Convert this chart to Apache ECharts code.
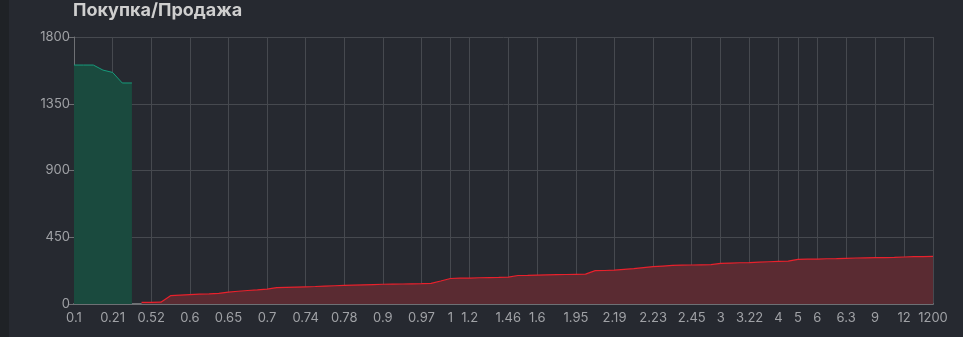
<!DOCTYPE html>
<html>
<head>
<meta charset="utf-8">
<script src="https://cdn.jsdelivr.net/npm/echarts@6/dist/echarts.min.js"></script>
<style>
html,body{margin:0;padding:0;background:#262930;}
body{background:linear-gradient(to right,#1f2226 0,#1f2226 9px,#262930 9px);}
#c{width:963px;height:337px;}
</style>
</head>
<body>
<div id="c"></div>
<script>
const categories = ["0.1","0.12","0.15","0.17","0.21","0.25","0.3","0.5","0.52","0.55","0.57","0.58","0.6","0.61","0.62","0.63","0.65","0.66","0.67","0.68","0.7","0.71","0.72","0.73","0.74","0.75","0.76","0.77","0.78","0.8","0.85","0.88","0.9","0.92","0.94","0.95","0.97","0.98","0.99","1","1.1","1.2","1.25","1.3","1.4","1.46","1.5","1.55","1.6","1.7","1.8","1.9","1.95","2","2.1","2.15","2.19","2.2","2.21","2.22","2.23","2.3","2.35","2.4","2.45","2.5","2.8","3","3.1","3.2","3.22","3.5","3.8","4","4.5","5","5.5","6","6.1","6.2","6.3","7","8","9","10","11","12","15","20","1200"];
const shownLabels = ["0.1","0.21","0.52","0.6","0.65","0.7","0.74","0.78","0.9","0.97","1","1.2","1.46","1.6","1.95","2.19","2.23","2.45","3","3.22","4","5","6","6.3","9","12","1200"];
const buyValues = [1611,1611,1611,1577,1561,1490,1490];
const sellValues = [11,11,12,56,60,63,66,68,72,80,86,91,95,100,110,112,114,116,118,121,123,125,127,129,131,133,134,135,136,137,139,155,172,174,175,177,178,179,181,192,193,195,197,198,199,200,201,225,226,228,233,238,245,252,256,260,262,263,264,265,274,276,278,279,282,285,288,289,301,302,303,305,306,308,310,311,312,313,314,317,319,320,321];
const yTicks = [0,450,900,1350,1800];

const buyData = categories.map((c,i)=> i < buyValues.length ? buyValues[i] : null);
const sellStart = categories.length - sellValues.length;
const sellData = categories.map((c,i)=> i >= sellStart ? sellValues[i-sellStart] : null);

const chart = echarts.init(document.getElementById('c'));
chart.setOption({
  backgroundColor: 'transparent',
  animation: false,
  title: {
    text: 'Покупка/Продажа',
    left: 73, top: 2, padding: 0,
    textStyle: {color:'#cfcfcf', fontSize:18, fontWeight:'bold', fontFamily:'Inter, Roboto, sans-serif'}
  },
  grid: {left:74, right:30, top:37, bottom:33, containLabel:false},
  xAxis: {
    type:'category',
    data: categories,
    boundaryGap:false,
    axisLine:{lineStyle:{color:'#6e7074', width:2}},
    axisTick:{show:false},
    axisLabel:{
      color:'#a0a2a6', fontSize:13, fontFamily:'Inter, Roboto, sans-serif', margin:8,
      interval:(idx,val)=>shownLabels.includes(val)
    },
    splitLine:{show:true, lineStyle:{color:'#46494f', width:1}}
  },
  yAxis: {
    type:'value',
    min: yTicks[0], max: yTicks[yTicks.length-1], interval: 450,
    axisLine:{show:true, lineStyle:{color:'#6e7074', width:1}},
    axisTick:{show:true, length:5, lineStyle:{color:'#6e7074'}},
    axisLabel:{color:'#a0a2a6', fontSize:13, fontFamily:'Inter, Roboto, sans-serif', margin:4,
      formatter:(v)=>String(v)},
    splitLine:{show:true, lineStyle:{color:'#46494f', width:1}}
  },
  series: [
    {
      type:'line', data: buyData, symbol:'none', connectNulls:false,
      lineStyle:{color:'#179c7c', width:1},
      areaStyle:{color:'#1a4a3e', opacity:1}
    },
    {
      type:'line', data: sellData, symbol:'none', connectNulls:false,
      lineStyle:{color:'#e8212c', width:1.2},
      areaStyle:{color:'#5a2b32', opacity:1}
    }
  ]
});
</script>
</body>
</html>
